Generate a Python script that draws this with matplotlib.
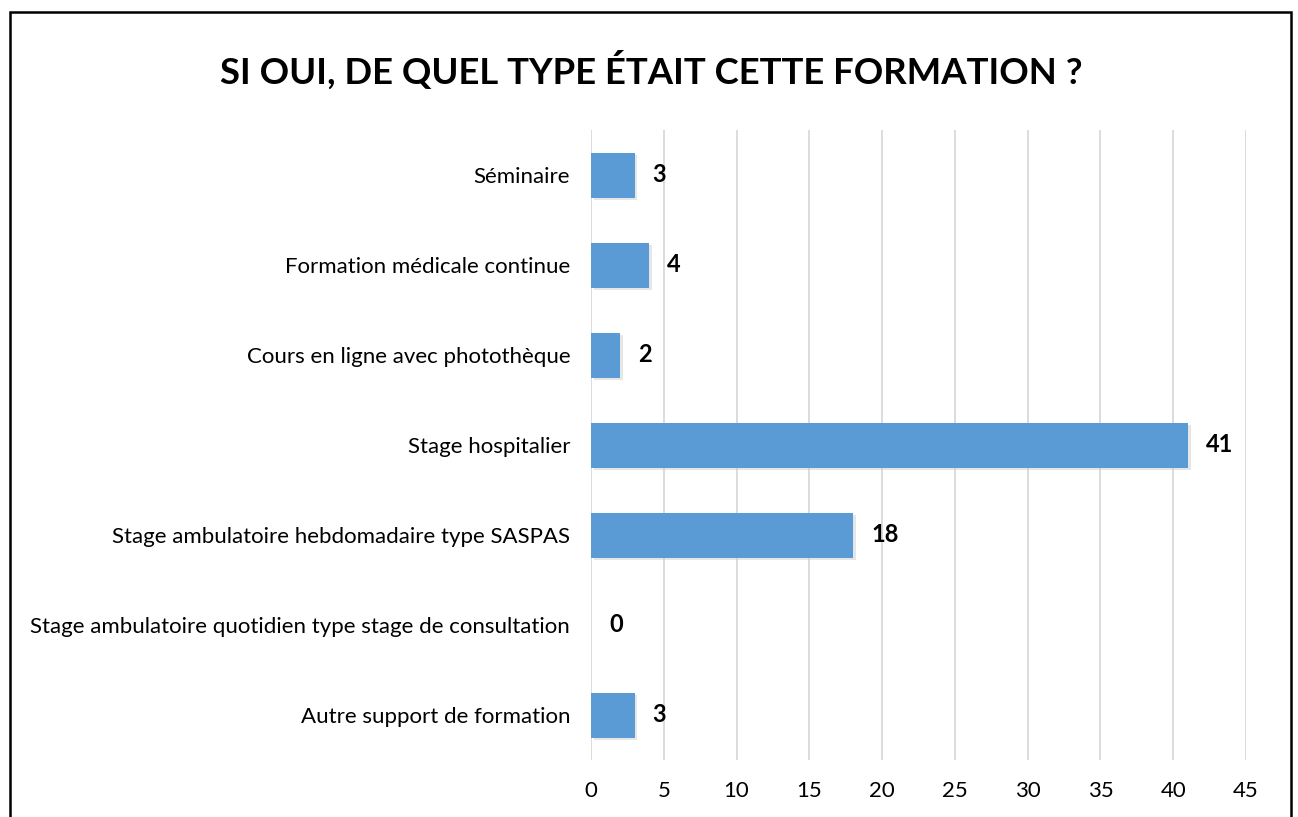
import matplotlib
matplotlib.use("Agg")
import matplotlib.pyplot as plt
import matplotlib.patheffects as pe
from matplotlib.patches import Rectangle

categories = [
    "Séminaire",
    "Formation médicale continue",
    "Cours en ligne avec photothèque",
    "Stage hospitalier",
    "Stage ambulatoire hebdomadaire type SASPAS",
    "Stage ambulatoire quotidien type stage de consultation",
    "Autre support de formation",
]
values = [3, 4, 2, 41, 18, 0, 3]
xticks = [0, 5, 10, 15, 20, 25, 30, 35, 40, 45]
title = "SI OUI, DE QUEL TYPE ÉTAIT CETTE FORMATION ?"

plt.rcParams['font.family'] = ['Lato', 'DejaVu Sans']

W, H = 1298, 817
fig = plt.figure(figsize=(W / 100, H / 100), dpi=100)
ax = fig.add_axes([591 / W, 1 - 760 / H, (1246 - 591) / W, (760 - 130) / H])

# chart border (bottom edge runs off the picture)
fig.add_artist(Rectangle((10 / W, -0.05), (1291 - 10) / W, 1 - 12 / H + 0.05,
                         transform=fig.transFigure, fill=False,
                         edgecolor='black', linewidth=1.8))

pos = list(range(len(categories)))
bars = ax.barh(pos, values, height=0.5, color='#5B9BD5', zorder=3)
for b in bars:
    b.set_path_effects([pe.SimplePatchShadow(offset=(2, -2), shadow_rgbFace='#c8c8c8', alpha=0.45),
                        pe.Normal()])

for p, v in zip(pos, values):
    ax.annotate(str(v), (v, p), xytext=(13, 0), textcoords='offset points',
                ha='left', va='center', fontsize=17, fontweight='bold')

ax.set_xlim(0, 45)
ax.set_ylim(len(categories) - 0.5, -0.5)
ax.set_xticks(xticks)
ax.set_yticks(pos)
ax.set_yticklabels(categories)
ax.tick_params(axis='both', length=0, labelsize=16)
ax.tick_params(axis='x', pad=15)
ax.tick_params(axis='y', pad=15)
ax.grid(axis='x', color='#D9D9D9', linewidth=1.3, zorder=0)
ax.set_axisbelow(True)
for s in ax.spines.values():
    s.set_visible(False)

fig.text(651 / W, 1 - 70 / H, title, ha='center', va='center',
         fontsize=26.3, fontweight='bold')

fig.savefig('out.png', dpi=100)
